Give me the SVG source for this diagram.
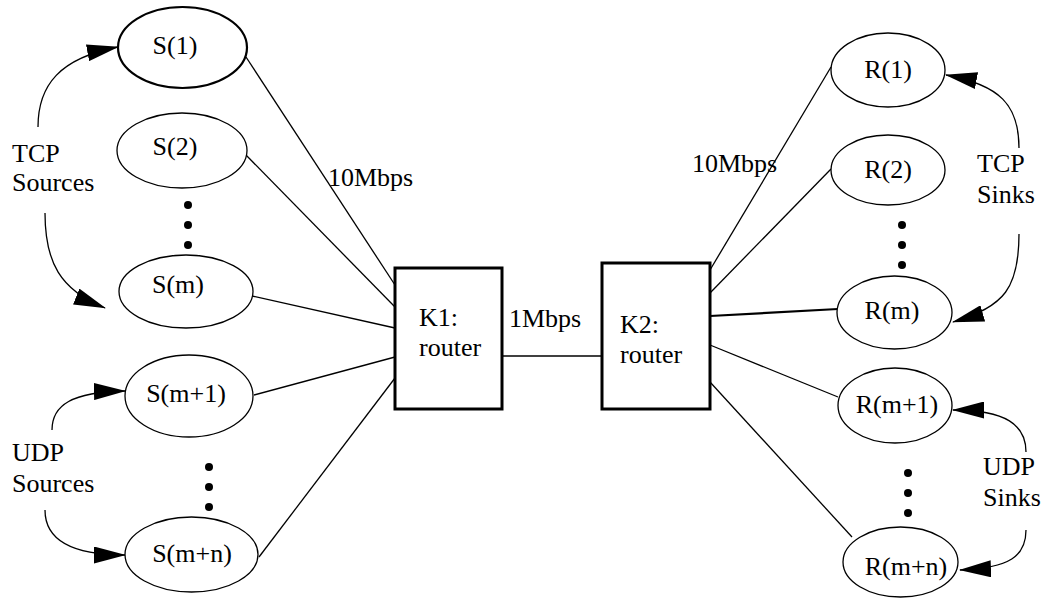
<svg xmlns="http://www.w3.org/2000/svg" width="1047" height="598" viewBox="0 0 1047 598">
  <style>
    text { font-family: "Times New Roman", Times, "Liberation Serif", serif; font-size: 26px; fill: #000; }
    .mid { text-anchor: middle; }
    .node { fill: #fff; stroke: #000; stroke-width: 1.3; }
    .router { fill: #fff; stroke: #000; stroke-width: 3; }
    .link { stroke: #000; stroke-width: 1.3; fill: none; }
    .bold { stroke-width: 2.2; }
    .curve { stroke: #000; stroke-width: 1.3; fill: none; marker-end: url(#head); }
    .dot { fill: #000; }
  </style>
  <defs>
    <marker id="head" viewBox="0 0 32 17" refX="31" refY="8.5" markerWidth="32" markerHeight="17" markerUnits="userSpaceOnUse" orient="auto">
      <path d="M0,0 L32,8.5 L0,17 z" fill="#000"/>
    </marker>
  </defs>
  <rect width="1047" height="598" fill="#fff"/>

  <!-- links between hosts and routers -->
  <g id="connectors">
    <line class="link" x1="246" y1="57" x2="395" y2="285"/>
    <line class="link" x1="246" y1="155" x2="395" y2="307"/>
    <line class="link" x1="252" y1="296" x2="395" y2="328"/>
    <line class="link" x1="254" y1="395" x2="395" y2="357"/>
    <line class="link" x1="259" y1="557" x2="395" y2="378"/>
    <line class="link" x1="502" y1="356" x2="602" y2="356"/>
    <line class="link" x1="710" y1="270" x2="831" y2="67"/>
    <line class="link" x1="710" y1="293" x2="831" y2="169"/>
    <line class="link bold" x1="710" y1="316" x2="838" y2="309"/>
    <line class="link" x1="710" y1="345" x2="838" y2="397"/>
    <line class="link" x1="710" y1="382" x2="852" y2="537"/>
    <!-- group arrows -->
    <path class="curve" d="M38,127 C38,85 60,58 118,47"/>
    <path class="curve" d="M45,213 C45,262 60,290 105,308"/>
    <path class="curve" d="M52,430 C52,405 72,392 125,391"/>
    <path class="curve" d="M45,510 C45,540 72,555 125,555"/>
    <path class="curve" d="M1019,148 C1019,105 1000,85 946,75"/>
    <path class="curve" d="M1019,234 C1019,287 1005,307 953,322"/>
    <path class="curve" d="M1026,452 C1026,425 1006,410 953,410"/>
    <path class="curve" d="M1026,530 C1026,556 1010,568 960,570"/>
  </g>

  <!-- link labels -->
  <text x="328" y="186">10Mbps</text>
  <text x="692" y="172">10Mbps</text>
  <text x="509" y="327">1Mbps</text>

  <!-- group labels -->
  <text x="12" y="162">TCP</text>
  <text x="12" y="191">Sources</text>
  <text x="12" y="461">UDP</text>
  <text x="12" y="492">Sources</text>
  <text x="977" y="172">TCP</text>
  <text x="977" y="203">Sinks</text>
  <text x="983" y="475">UDP</text>
  <text x="983" y="506">Sinks</text>

  <!-- elision dots -->
  <g id="dots">
    <circle class="dot" cx="188" cy="205" r="4"/>
    <circle class="dot" cx="188" cy="225" r="4"/>
    <circle class="dot" cx="188" cy="245" r="4"/>
    <circle class="dot" cx="209" cy="467" r="4"/>
    <circle class="dot" cx="209" cy="487" r="4"/>
    <circle class="dot" cx="209" cy="507" r="4"/>
    <circle class="dot" cx="902" cy="225" r="4"/>
    <circle class="dot" cx="902" cy="245" r="4"/>
    <circle class="dot" cx="902" cy="265" r="4"/>
    <circle class="dot" cx="908" cy="473" r="4"/>
    <circle class="dot" cx="908" cy="493" r="4"/>
    <circle class="dot" cx="908" cy="513" r="4"/>
  </g>

  <!-- routers -->
  <g id="K1">
    <rect class="router" x="395" y="268" width="107" height="141"/>
    <text x="419" y="326">K1:</text>
    <text x="419" y="356">router</text>
  </g>
  <g id="K2">
    <rect class="router" x="602" y="263" width="108" height="146"/>
    <text x="620" y="333">K2:</text>
    <text x="620" y="363">router</text>
  </g>

  <!-- sources -->
  <g id="S1">
    <ellipse class="node" cx="182.5" cy="47.5" rx="64.5" ry="40.5" style="stroke-width:2.2"/>
    <text class="mid" x="175" y="54">S(1)</text>
  </g>
  <g id="S2">
    <ellipse class="node" cx="182" cy="150.5" rx="65" ry="37.5"/>
    <text class="mid" x="175" y="155">S(2)</text>
  </g>
  <g id="Sm">
    <ellipse class="node" cx="186" cy="291.5" rx="67" ry="36.5"/>
    <text class="mid" x="178" y="293">S(m)</text>
  </g>
  <g id="Sm1">
    <ellipse class="node" cx="189" cy="396" rx="64" ry="41"/>
    <text class="mid" x="186" y="402">S(m+1)</text>
  </g>
  <g id="Smn">
    <ellipse class="node" cx="191.5" cy="554.5" rx="66.5" ry="37.5"/>
    <text class="mid" x="192" y="562">S(m+n)</text>
  </g>

  <!-- sinks -->
  <g id="R1">
    <ellipse class="node" cx="888" cy="70" rx="57" ry="37"/>
    <text class="mid" x="888" y="78">R(1)</text>
  </g>
  <g id="R2">
    <ellipse class="node" cx="888" cy="170" rx="57" ry="35"/>
    <text class="mid" x="888" y="178">R(2)</text>
  </g>
  <g id="Rm">
    <ellipse class="node" cx="894.5" cy="312.5" rx="57.5" ry="36.5"/>
    <text class="mid" x="892" y="319">R(m)</text>
  </g>
  <g id="Rm1">
    <ellipse class="node" cx="895" cy="405.5" rx="57" ry="37.5"/>
    <text class="mid" x="897" y="413">R(m+1)</text>
  </g>
  <g id="Rmn">
    <ellipse class="node" cx="900.5" cy="562" rx="57.5" ry="35"/>
    <text class="mid" x="906" y="575">R(m+n)</text>
  </g>
</svg>
